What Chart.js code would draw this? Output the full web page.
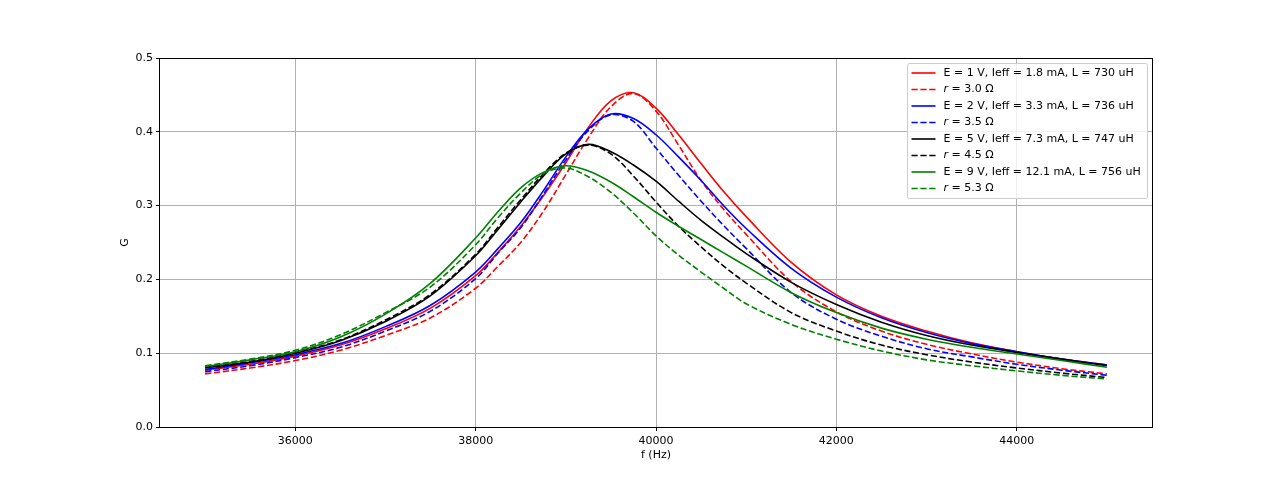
<!DOCTYPE html>
<html>
<head>
<meta charset="utf-8">
<script src="https://cdn.jsdelivr.net/npm/chart.js@4.4.1/dist/chart.umd.min.js"></script>
<style>
  html, body { margin: 0; padding: 0; background: #fff; }
  canvas { display: block; }
</style>
</head>
<body>
<canvas id="chart" width="1280" height="480"></canvas>
<script>
// Resonance curves G(f) – measured (solid) vs fitted series-resistance model (dashed).
const FREQ = [35000, 35500, 36000, 36500, 37000, 37500, 38000, 38250, 38500, 38750,
              39000, 39250, 39500, 39750, 40000, 40250, 40500, 40750, 41000, 41500,
              42000, 42500, 43000, 43500, 44000, 44500, 45000];

const G_E1 = [0.077, 0.085, 0.096, 0.111, 0.133, 0.161, 0.205, 0.237, 0.272, 0.313,
              0.358, 0.406, 0.442, 0.453, 0.432, 0.396, 0.357, 0.319, 0.285, 0.223,
              0.179, 0.150, 0.130, 0.114, 0.102, 0.092, 0.084];
const G_R30 = [0.072, 0.080, 0.090, 0.104, 0.124, 0.148, 0.188, 0.218, 0.250, 0.292,
               0.342, 0.392, 0.434, 0.452, 0.428, 0.382, 0.334, 0.295, 0.261, 0.197,
               0.156, 0.130, 0.112, 0.099, 0.088, 0.079, 0.072];
const G_E2 = [0.078, 0.087, 0.098, 0.113, 0.136, 0.165, 0.210, 0.242, 0.277, 0.320,
              0.366, 0.404, 0.424, 0.418, 0.396, 0.366, 0.334, 0.300, 0.269, 0.215,
              0.176, 0.148, 0.128, 0.113, 0.102, 0.092, 0.084];
const G_R35 = [0.075, 0.083, 0.094, 0.108, 0.130, 0.157, 0.201, 0.236, 0.270, 0.315,
               0.362, 0.402, 0.423, 0.414, 0.378, 0.341, 0.306, 0.273, 0.242, 0.182,
               0.146, 0.123, 0.106, 0.095, 0.085, 0.077, 0.070];
const G_E5 = [0.080, 0.088, 0.100, 0.117, 0.143, 0.178, 0.232, 0.268, 0.305, 0.340,
              0.370, 0.383, 0.373, 0.355, 0.333, 0.306, 0.280, 0.257, 0.235, 0.196,
              0.166, 0.142, 0.124, 0.111, 0.101, 0.092, 0.083];
const G_R45 = [0.081, 0.089, 0.101, 0.118, 0.145, 0.180, 0.234, 0.271, 0.308, 0.343,
               0.371, 0.382, 0.370, 0.340, 0.305, 0.272, 0.244, 0.218, 0.195, 0.155,
               0.130, 0.111, 0.098, 0.088, 0.080, 0.073, 0.067];
const G_E9 = [0.082, 0.091, 0.102, 0.122, 0.153, 0.195, 0.256, 0.292, 0.324, 0.345,
              0.354, 0.347, 0.332, 0.312, 0.291, 0.272, 0.254, 0.236, 0.218, 0.182,
              0.155, 0.134, 0.119, 0.108, 0.099, 0.090, 0.081];
const G_R53 = [0.083, 0.092, 0.104, 0.125, 0.155, 0.190, 0.247, 0.284, 0.317, 0.343,
               0.351, 0.339, 0.318, 0.290, 0.259, 0.233, 0.210, 0.188, 0.167, 0.139,
               0.119, 0.103, 0.091, 0.083, 0.076, 0.070, 0.065];

const LABELS = ["E = 1 V, Ieff = 1.8 mA, L = 730 uH", "r = 3.0 Ω",
                "E = 2 V, Ieff = 3.3 mA, L = 736 uH", "r = 3.5 Ω",
                "E = 5 V, Ieff = 7.3 mA, L = 747 uH", "r = 4.5 Ω",
                "E = 9 V, Ieff = 12.1 mA, L = 756 uH", "r = 5.3 Ω"];
const SERIES = [G_E1, G_R30, G_E2, G_R35, G_E5, G_R45, G_E9, G_R53];
const COLORS = ["#ff0000", "#ff0000", "#0000ff", "#0000ff",
                "#000000", "#000000", "#008000", "#008000"];

const X_TICKS = [36000, 38000, 40000, 42000, 44000];
const Y_TICKS = [0, 0.1, 0.2, 0.3, 0.4, 0.5];

const FONT = "DejaVu Sans";
Chart.defaults.font.family = FONT;
Chart.defaults.font.size = 11;
Chart.defaults.color = "#000";

const datasets = SERIES.map((vals, i) => ({
  label: LABELS[i],
  data: FREQ.map((f, k) => ({ x: f, y: vals[k] })),
  borderColor: COLORS[i],
  borderWidth: 1.6,
  borderDash: i % 2 ? [6.2, 2.7] : [],
  pointRadius: 0,
  fill: false,
  tension: 0.35,
  order: SERIES.length - i, // later series on top, like matplotlib
}));

// full box around the axes (matplotlib spines)
const spines = {
  id: "spines",
  afterDatasetsDraw(chart) {
    const { ctx, chartArea: a } = chart;
    ctx.save();
    ctx.strokeStyle = "#000";
    ctx.lineWidth = 1;
    ctx.strokeRect(Math.round(a.left) - 0.5, Math.round(a.top) + 0.5,
                   Math.round(a.right - a.left) + 1, Math.round(a.bottom - a.top));
    ctx.restore();
  },
};

// legend in the upper right corner of the axes
const cornerLegend = {
  id: "cornerLegend",
  afterDraw(chart) {
    const { ctx, chartArea: a } = chart;
    const w = 240, h = 135, row = 16.5;
    const x0 = Math.round(a.right) - 5 - w + 0.5, y0 = Math.round(a.top) + 5 + 0.5;
    ctx.save();
    ctx.fillStyle = "rgba(255,255,255,0.8)";
    ctx.strokeStyle = "#cccccc";
    ctx.lineWidth = 1;
    ctx.beginPath();
    ctx.roundRect(x0, y0, w, h, 2);
    ctx.fill();
    ctx.stroke();
    ctx.textBaseline = "middle";
    chart.data.datasets.forEach((ds, i) => {
      const y = y0 + 9.5 + i * row;
      ctx.strokeStyle = ds.borderColor;
      ctx.lineWidth = ds.borderWidth;
      ctx.setLineDash(ds.borderDash);
      ctx.beginPath();
      ctx.moveTo(x0 + 4, y);
      ctx.lineTo(x0 + 28, y);
      ctx.stroke();
      ctx.setLineDash([]);
      ctx.fillStyle = "#000";
      let tx = x0 + 36;
      let text = ds.label;
      if (text.startsWith("r ")) {
        ctx.font = `oblique 11px "${FONT}"`;
        ctx.fillText("r", tx, y);
        tx += ctx.measureText("r").width;
        text = text.slice(1);
      }
      ctx.font = `11px "${FONT}"`;
      ctx.fillText(text, tx, y);
    });
    ctx.restore();
  },
};

new Chart(document.getElementById("chart"), {
  type: "line",
  data: { datasets },
  plugins: [spines, cornerLegend],
  options: {
    responsive: false,
    animation: false,
    devicePixelRatio: 1,
    layout: { padding: { top: 58, right: 128, left: 0, bottom: 0 } },
    plugins: { legend: { display: false }, tooltip: { enabled: false } },
    scales: {
      x: {
        type: "linear", min: 34500, max: 45500,
        afterBuildTicks: (s) => { s.ticks = X_TICKS.map((v) => ({ value: v })); },
        ticks: { callback: (v) => String(v), padding: 4, maxRotation: 0, color: "#000" },
        grid: { color: "#b0b0b0", lineWidth: 1, tickColor: "#000", tickLength: 4 },
        border: { display: false },
        title: { display: true, text: "f (Hz)", color: "#000", padding: { top: 0, bottom: 18 } },
        afterFit: (s) => { s.height = 53; },
      },
      y: {
        type: "linear", min: 0, max: 0.5,
        afterBuildTicks: (s) => { s.ticks = Y_TICKS.map((v) => ({ value: v })); },
        ticks: { callback: (v) => v.toFixed(1), padding: 3, color: "#000" },
        grid: { color: "#b0b0b0", lineWidth: 1, tickColor: "#000", tickLength: 4 },
        border: { display: false },
        title: { display: true, text: "G", color: "#000", padding: { top: 119, bottom: 0 } },
        afterFit: (s) => { s.width = 160; },
      },
    },
  },
});
</script>
</body>
</html>
